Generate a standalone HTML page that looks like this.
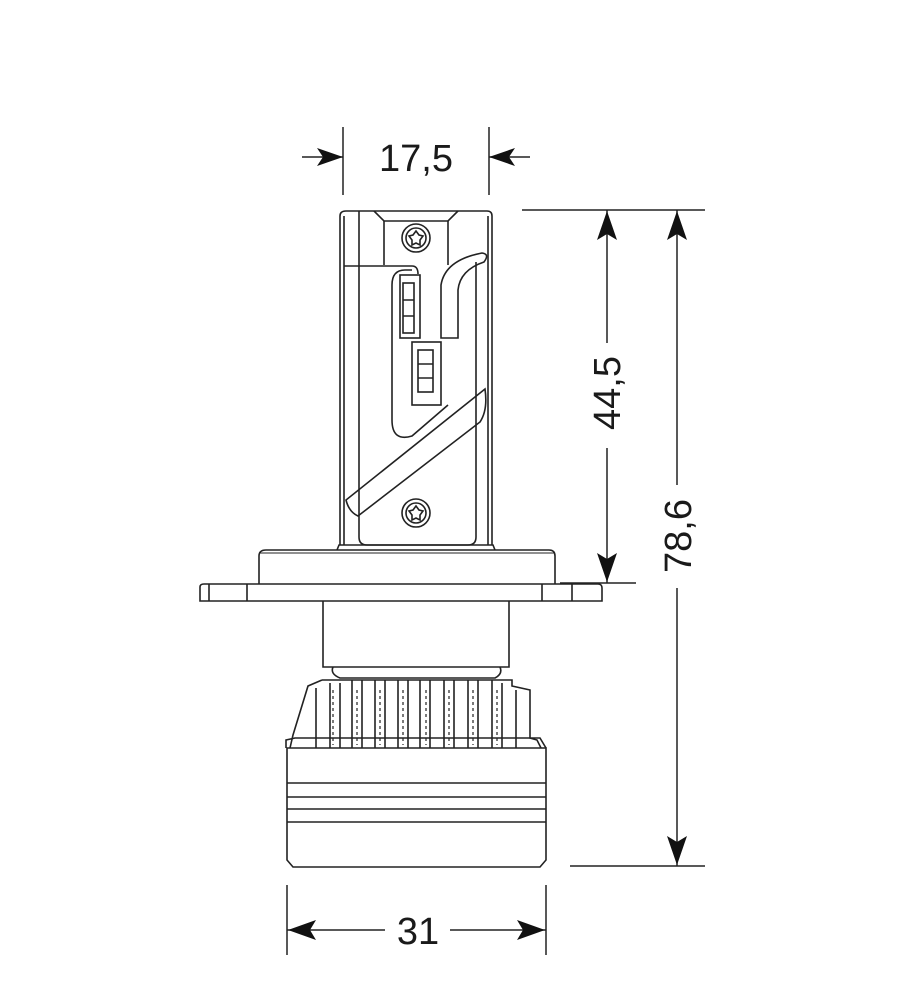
<!DOCTYPE html>
<html><head><meta charset="utf-8"><style>
html,body{margin:0;padding:0;background:#fff}
svg{display:block}
text{font-family:"Liberation Sans",Arial,sans-serif;font-size:38px;fill:#1a1a1a}
</style></head><body>
<svg width="900" height="1000" viewBox="0 0 900 1000" xmlns="http://www.w3.org/2000/svg">
<g stroke="#222" stroke-width="1.6" fill="none">
<!-- upper body -->
<path d="M340,545 L340,216 Q340,211 346,211 L487,211 Q492,211 492,216 L492,545"/>
<path d="M344,545 L344,216 M488,545 L488,216"/>
<path d="M359,211 L359,537 Q359,545 367,545 L468,545 Q476,545 476,537 L476,262"/>
<path d="M374,211 L384,221 L448,221 L458,211"/>
<path d="M384,221 L384,265 M448,221 L448,265"/>
<path d="M344,266 L412,266 Q418,266 418,274"/>
<path d="M392,285 Q392,270 405,270 L412,270"/>
<path d="M392,285 L392,420 Q392,442 412,436 L448,405"/>
<rect x="400" y="275" width="20" height="63"/>
<rect x="403" y="283" width="11" height="50"/>
<path d="M403,300 H414 M403,316 H414"/>
<rect x="412" y="342" width="29" height="63"/>
<rect x="418" y="350" width="15" height="42"/>
<path d="M418,364 H433 M418,378 H433"/>
<path d="M441,338 L441,285 Q445,260 482,253 Q490,254 484,262 Q460,270 458,290 L458,338 Z"/>
<path d="M485,389 L346,500 Q349,512 358,516 L480,422 Q488,410 485,389 Z"/>
<circle cx="416" cy="238" r="14"/><circle cx="416" cy="238" r="10"/>
<circle cx="416" cy="513" r="14"/><circle cx="416" cy="513" r="10"/>
<path d="M416,231 L419,235 L423,236 L420,240 L420,245 L416,243 L412,245 L412,240 L409,236 L413,235 Z"/>
<path d="M416,506 L419,510 L423,511 L420,515 L420,520 L416,518 L412,520 L412,515 L409,511 L413,510 Z"/>
<!-- collar -->
<path d="M337,550 L339,545 L493,545 L495,550"/>
<path d="M259,584 L259,556 Q259,550 266,550 L549,550 Q555,550 555,556 L555,584"/>
<path d="M259,553 L555,553" stroke-width="1"/>
<path d="M200,601 L200,587 Q200,584 204,584 L598,584 Q602,584 602,588 L602,601 Z"/>
<path d="M209,584 L209,601 M247,584 L247,601 M542,584 L542,601 M572,584 L572,601"/>
<!-- neck -->
<path d="M323,601 L323,667 L509,667 L509,601"/>
<path d="M333,667 Q330,674 340,678 L495,678 Q503,674 500,667"/>
<!-- heatsink -->
<path d="M322,680 L512,680 L512,686 L530,690 L530,738 L537,740 L541,748"/>
<path d="M322,680 L308,686 L293,735 L290,748"/>
<path d="M316,688 L316,748 M330,683 L330,748 M340,683 L340,748 M352,680 L352,748 M362,680 L362,748 M375,680 L375,748 M385,680 L385,748 M398,680 L398,748 M408,680 L408,748 M420,680 L420,748 M430,680 L430,748 M444,680 L444,748 M454,680 L454,748 M468,680 L468,748 M478,680 L478,748 M492,680 L492,748 M502,683 L502,748 M516,690 L516,748"/>
<path d="M333,690 v55 M357,690 v55 M380,690 v55 M403,690 v55 M426,690 v55 M449,690 v55 M473,690 v55 M497,690 v55" stroke-dasharray="3,3" stroke-width="1.2"/>
<path d="M286,748 L286,740 L295,738 L540,738 L546,748"/>
<!-- base -->
<path d="M287,748 L546,748 L546,860 L540,867 L293,867 L287,860 Z"/>
<path d="M287,783 H546 M287,797 H546 M287,809 H546 M287,822 H546"/>
</g>
<!-- dimensions -->
<g stroke="#222" stroke-width="1.5" fill="none">
<path d="M343,127 V195 M489,127 V195"/>
<path d="M302,157 H343 M489,157 H530"/>
<path d="M522,210 H705 M560,583 H636 M570,866 H705"/>
<path d="M607,210 V343 M607,448 V583"/>
<path d="M677,210 V485 M677,588 V866"/>
<path d="M287,885 V955 M546,885 V955"/>
<path d="M287,930 H385 M450,930 H546"/>
</g>
<g fill="#111">
<path d="M343,157 L317,148 L323,157 L317,166 Z"/>
<path d="M489,157 L515,148 L509,157 L515,166 Z"/>
<path d="M607,211 L597,240 L607,234 L617,240 Z"/>
<path d="M607,582 L597,553 L607,559 L617,553 Z"/>
<path d="M677,211 L667,240 L677,234 L687,240 Z"/>
<path d="M677,865 L667,836 L677,842 L687,836 Z"/>
<path d="M288,930 L316,920 L310,930 L316,940 Z"/>
<path d="M545,930 L517,920 L523,930 L517,940 Z"/>
</g>
<text x="416" y="171" text-anchor="middle">17,5</text>
<text x="418" y="944" text-anchor="middle">31</text>
<text transform="translate(620,393) rotate(-90)" text-anchor="middle">44,5</text>
<text transform="translate(691,536) rotate(-90)" text-anchor="middle">78,6</text>
</svg>
</body></html>
